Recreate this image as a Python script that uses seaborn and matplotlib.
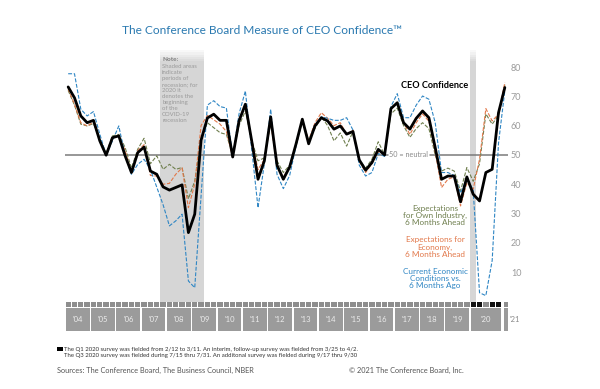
import pandas as pd
import matplotlib.pyplot as plt
import seaborn as sns
from matplotlib.patches import Rectangle

# survey periods: quarterly 2004-2019, 2020 had two extra survey rounds
periods = [f"{y}Q{q}" for y in range(2004, 2020) for q in range(1, 5)]
periods += ["2020Q1", "2020Q1b", "2020Q2", "2020Q3", "2020Q3b", "2021Q1"]
special_periods = ["2020Q1", "2020Q1b", "2020Q3", "2020Q3b"]
recessions = [("2007Q4", "2009Q2"), ("2020Q1", "2020Q1")]

ceo_confidence = [
    73.2, 69.5, 63.3, 61.0, 61.8, 54.8, 49.9, 55.9, 56.5, 49.7, 44.0, 50.8,
    52.7, 44.5, 43.4, 39.1, 38.0, 38.9, 39.8, 23.5, 29.8, 55.0, 62.6, 63.9,
    61.8, 61.8, 49.3, 61.6, 67.3, 54.8, 41.7, 48.0, 63.0, 46.5, 41.7, 45.9,
    53.7, 62.2, 53.8, 59.9, 62.7, 61.6, 58.8, 59.9, 57.1, 58.0, 48.3, 44.8,
    47.4, 51.9, 50.0, 65.8, 67.8, 61.0, 58.8, 62.5, 65.0, 62.7, 52.5, 41.7,
    42.8, 42.8, 34.0, 42.5, 36.6, 34.3, 44.0, 45.1, 64.4, 73.0,
]
current_conditions = [
    77.7, 77.7, 65.6, 63.3, 64.8, 57.1, 49.9, 54.8, 59.9, 49.7, 43.4, 46.8,
    48.5, 45.0, 39.0, 33.0, 25.8, 27.5, 29.8, 7.0, 4.7, 36.0, 67.0, 68.5,
    66.5, 66.0, 49.5, 64.0, 71.8, 52.0, 32.0, 47.0, 65.6, 43.4, 38.5, 43.0,
    53.0, 62.0, 54.5, 60.3, 63.0, 62.5, 61.8, 61.8, 62.7, 58.5, 46.5, 42.8,
    44.0, 50.5, 49.5, 66.5, 70.9, 62.7, 62.7, 67.0, 70.1, 69.0, 61.0, 44.0,
    44.0, 43.0, 37.0, 42.0, 38.0, 3.0, 2.0, 14.0, 54.0, 72.0,
]
economy_expectations = [
    72.5, 67.3, 61.0, 59.9, 61.2, 54.8, 50.0, 56.0, 56.5, 51.5, 44.0, 51.5,
    53.5, 43.0, 42.8, 40.0, 40.3, 43.4, 45.6, 32.0, 40.0, 60.0, 63.5, 62.0,
    60.5, 58.0, 49.0, 62.5, 66.0, 55.5, 45.0, 48.5, 61.0, 46.0, 42.5, 46.0,
    53.5, 62.0, 55.0, 61.0, 64.4, 62.5, 60.0, 61.0, 57.0, 58.5, 48.0, 44.0,
    47.0, 51.0, 50.5, 65.5, 68.0, 61.0, 57.0, 61.0, 64.0, 61.5, 51.0, 38.9,
    41.7, 42.5, 32.6, 40.5, 38.3, 48.5, 65.8, 61.6, 63.9, 74.7,
]
industry_expectations = [
    72.0, 67.0, 60.5, 59.9, 60.7, 55.5, 50.5, 56.5, 57.0, 52.5, 45.5, 52.0,
    55.7, 47.0, 49.7, 45.1, 46.8, 45.1, 45.7, 35.0, 41.1, 55.5, 61.0, 59.3,
    57.6, 57.0, 50.0, 60.0, 65.0, 55.0, 48.0, 49.0, 61.0, 48.0, 44.0, 46.5,
    53.0, 61.5, 55.0, 59.0, 63.0, 60.0, 54.8, 57.5, 53.0, 58.0, 48.5, 45.5,
    48.5, 54.5, 50.0, 64.0, 66.0, 60.0, 56.0, 59.0, 61.0, 59.0, 50.0, 44.5,
    45.5, 44.5, 37.7, 45.7, 41.0, 47.0, 64.0, 60.5, 63.5, 74.0,
]

df = pd.DataFrame({
    "period": periods,
    "CEO Confidence": ceo_confidence,
    "Current": current_conditions,
    "Economy": economy_expectations,
    "Industry": industry_expectations,
})
df["slot"] = range(len(df))
df["x"] = df["slot"] + 0.5
df["year"] = df["period"].str[:4].astype(int)

sns.set_theme(style="white")
plt.rcParams["font.family"] = ["Lato", "DejaVu Sans"]

W, H = 600, 389
fig = plt.figure(figsize=(6, 3.89), dpi=100)
ax = fig.add_axes([65 / W, (H - 301.5) / H, 443 / W, 251.5 / H])
strip = fig.add_axes([65 / W, (H - 331) / H, 443 / W, 29.5 / H], sharex=ax)

n = len(df)
ax.set_xlim(0, n)
ax.set_ylim(0, 85.8)

# recession shading, fading out at the top
for start, end in recessions:
    s = periods.index(start)
    e = periods.index(end) + 1
    ax.axvspan(s, e, ymax=0.955, color="#d6d6d6", lw=0, zorder=0)
    for k in range(5):
        ax.axvspan(s, e, ymin=0.955 + k * 0.009, ymax=0.955 + (k + 1) * 0.009,
                   color="#d6d6d6", alpha=0.85 - k * 0.17, lw=0, zorder=0)

ax.text(15.35, 83.5, "Note:", fontsize=4.6, fontweight="bold", color="#7e7e7e", va="top")
ax.text(15.35, 81.0,
        "Shaded areas\nindicate\nperiods of\nrecession; for\n2020 it\ndenotes the\n"
        "beginning\nof the\nCOVID-19\nrecession",
        fontsize=4.3, color="#9a9a9a", va="top", linespacing=1.25)

# 50 = neutral reference line
ax.plot([0, 51.0], [50, 50], color="#7a7a7a", lw=1.1, zorder=1)
ax.plot([57.6, n], [50, 50], color="#7a7a7a", lw=1.1, zorder=1)
ax.text(54.3, 50, "50 = neutral", fontsize=5.2, color="#8a8a8a", ha="center", va="center")

sns.lineplot(data=df, x="x", y="Industry", ax=ax, color="#6f7f4e", lw=0.8,
             linestyle=(0, (3.5, 1.5)), zorder=2)
sns.lineplot(data=df, x="x", y="Economy", ax=ax, color="#e2784a", lw=0.8,
             linestyle=(0, (3.5, 1.5)), zorder=3)
sns.lineplot(data=df, x="x", y="Current", ax=ax, color="#2f86c4", lw=0.8,
             linestyle=(0, (3.5, 1.5)), zorder=4)
sns.lineplot(data=df, x="x", y="CEO Confidence", ax=ax, color="black", lw=2.0,
             zorder=5)

ax.yaxis.tick_right()
ax.set_yticks([10, 20, 30, 40, 50, 60, 70, 80])
ax.tick_params(axis="y", length=0, pad=2, labelsize=6.5, labelcolor="#9a9a9a")
ax.tick_params(axis="x", bottom=False, labelbottom=False)
ax.set_xlabel("")
ax.set_ylabel("")
for sp in ax.spines.values():
    sp.set_visible(False)

# quarter tiles and year blocks
strip.set_ylim(0, 1)
strip.axis("off")
tile_h = 5.5 / 29.5
for slot, per in zip(df["slot"], df["period"]):
    c = "#111111" if per in special_periods else "#8e8e8e"
    x0 = slot + 0.08
    w = 0.84
    if per == "2021Q1":
        x0, w = slot + 0.4, 0.55
    strip.add_patch(Rectangle((x0, 1 - tile_h), w, tile_h, color=c, lw=0))
for yr, g in df.groupby("year"):
    s = g["slot"].min()
    e = g["slot"].max() + 1
    if yr == 2021:
        strip.add_patch(Rectangle((s + 0.4, 0), 0.55, 1 - tile_h - 0.03,
                                  color="#9b9b9b", lw=0))
        strip.text(e + 0.3, 0.38, f"'{str(yr)[2:]}", fontsize=5.5, color="#8a8a8a",
                   ha="left", va="center")
        continue
    strip.add_patch(Rectangle((s + 0.12, 0), e - s - 0.24, 1 - tile_h - 0.03,
                              color="#9b9b9b", lw=0))
    strip.text((s + e) / 2, 0.38, f"'{str(yr)[2:]}", fontsize=5.5, color="#ececec",
               ha="center", va="center")

# titles and labels
fig.text(261.5 / W, 1 - 31 / H, "The Conference Board Measure of CEO Confidence™",
         fontsize=8.6, color="#2a79b0", ha="center", va="center")
fig.text(435 / W, 1 - 85.7 / H, "CEO Confidence", fontsize=6.6, fontweight="bold",
         color="black", ha="center", va="center")
fig.text(435 / W, 1 - 215.5 / H, "Expectations\nfor Own Industry,\n6 Months Ahead",
         fontsize=5.9, color="#6f7f4e", ha="center", va="center", linespacing=1.05)
fig.text(435 / W, 1 - 247 / H, "Expectations for\nEconomy,\n6 Months Ahead",
         fontsize=5.9, color="#e2784a", ha="center", va="center", linespacing=1.05)
fig.text(435 / W, 1 - 278.5 / H, "Current Economic\nConditions vs.\n6 Months Ago",
         fontsize=5.9, color="#2f86c4", ha="center", va="center", linespacing=1.05)

fig.patches.append(Rectangle((57.3 / W, 1 - 351 / H), 5.4 / W, 4 / H,
                             transform=fig.transFigure, color="black", lw=0))
fig.text(64 / W, 1 - 349 / H,
         "The Q1 2020 survey was fielded from 2/12 to 3/11. An interim, follow-up survey "
         "was fielded from 3/25 to 4/2.",
         fontsize=4.3, color="#333333", ha="left", va="center")
fig.text(64 / W, 1 - 355.7 / H,
         "The Q3 2020 survey was fielded during 7/15 thru 7/31. An additonal survey was "
         "fielded during 9/17 thru 9/30",
         fontsize=4.3, color="#333333", ha="left", va="center")
fig.text(57.3 / W, 1 - 370 / H, "Sources: The Conference Board, The Business Council, NBER",
         fontsize=5.3, color="#555555", ha="left", va="center")
fig.text(463.3 / W, 1 - 370 / H, "© 2021 The Conference Board, Inc.",
         fontsize=5.3, color="#555555", ha="right", va="center")

fig.savefig("out.png", dpi=100, facecolor="white")
